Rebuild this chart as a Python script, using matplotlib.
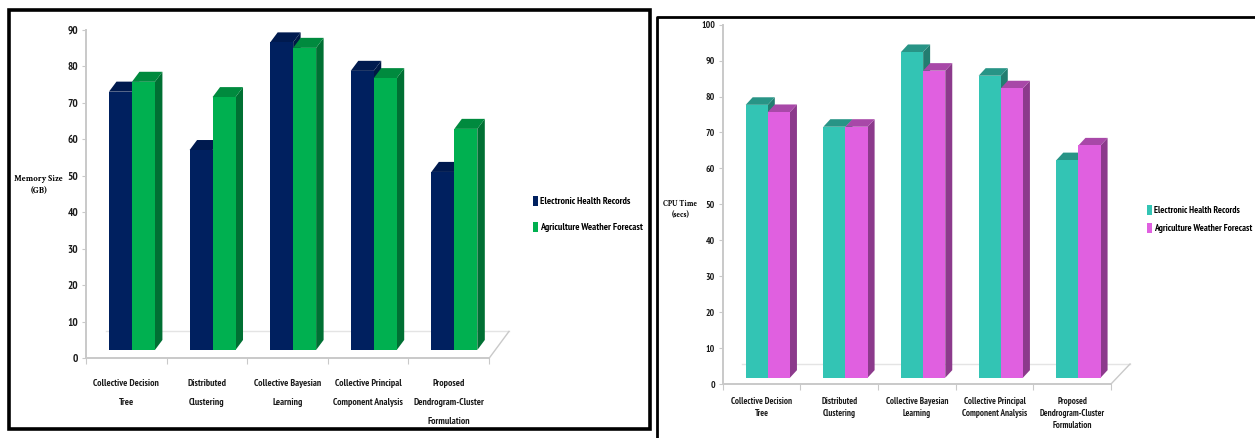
import matplotlib
matplotlib.use("Agg")
import matplotlib.pyplot as plt
from matplotlib.patches import Patch, Polygon, Rectangle

WIDTH = 1255
HEIGHT = 438

methods = [
    "Collective Decision\nTree",
    "Distributed\nClustering",
    "Collective Bayesian\nLearning",
    "Collective Principal\nComponent Analysis",
    "Proposed\nDendrogram-Cluster\nFormulation",
]
series_names = ["Electronic Health Records", "Agriculture Weather Forecast"]

memory_health = [73.1, 57.1, 86.6, 78.8, 51.1]
memory_weather = [75.8, 71.6, 85.1, 76.8, 62.9]
cpu_health = [77.7, 71.6, 92.4, 85.8, 62.3]
cpu_weather = [75.7, 71.6, 87.2, 82.3, 66.4]

NARROW = ["PT Sans Narrow", "Archivo Narrow", "Roboto Condensed",
          "Liberation Sans"]
SERIF = ["Crimson Text", "Liberation Serif"]
AXIS_GREY = "#c9c9c9"


def add_axes_px(fig, left, right, top, bottom):
    # axes box given in pixels from the top left corner
    return fig.add_axes([
        left / WIDTH,
        1 - bottom / HEIGHT,
        (right - left) / WIDTH,
        (bottom - top) / HEIGHT,
    ])


def draw_bar(ax, x0, width, base, value, dx, dy, colors):
    front, top, side = colors
    x1 = x0 + width
    ax.add_patch(Polygon(
        [(x1, base), (x1 + dx, base + dy), (x1 + dx, value + dy), (x1, value)],
        facecolor=side, edgecolor="none", clip_on=False, zorder=3))
    ax.add_patch(Polygon(
        [(x0, value), (x1, value), (x1 + dx, value + dy), (x0 + dx, value + dy)],
        facecolor=top, edgecolor="none", clip_on=False, zorder=3))
    ax.add_patch(Rectangle(
        (x0, base), width, value - base,
        facecolor=front, edgecolor="none", clip_on=False, zorder=3))


def draw_chart(ax, series, colors, ymax, base, offset, width, dx, dy,
               floor_dx, floor_y, label_size, tick_size, label_pad, line_gap):
    n = len(methods)
    ax.set_xlim(0, n)
    ax.set_ylim(0, ymax)

    # floor of the 3D box
    ax.plot([floor_dx, n + floor_dx], [floor_y, floor_y], color="#e4e4e4",
            lw=1, clip_on=False, zorder=1)
    ax.plot([n, n + floor_dx], [0, floor_y], color=AXIS_GREY,
            lw=1, clip_on=False, zorder=1)

    for s, values in enumerate(series):
        for i, value in enumerate(values):
            draw_bar(ax, i + offset + s * width, width, base, value,
                     dx, dy, colors[s])

    for name in ["top", "right"]:
        ax.spines[name].set_visible(False)
    for name in ["left", "bottom"]:
        ax.spines[name].set_color(AXIS_GREY)
        ax.spines[name].set_linewidth(1.4)

    ax.set_xticks(range(n + 1))
    ax.set_xticklabels([])
    ax.set_xticks([i + 0.5 for i in range(n)], minor=True)
    ax.set_xticklabels(methods, minor=True, family=NARROW, fontweight="bold",
                       fontsize=label_size, linespacing=line_gap,
                       color="#1a1a1a")
    ax.tick_params(axis="x", which="minor", length=0, pad=label_pad)
    ax.tick_params(axis="x", which="major", length=4, color=AXIS_GREY)

    ax.set_yticks(range(0, ymax + 1, 10))
    ax.tick_params(axis="y", length=3, color=AXIS_GREY, pad=2.5)
    for tick in ax.get_yticklabels():
        tick.set_family(NARROW)
        tick.set_fontweight("bold")
        tick.set_fontsize(tick_size)
        tick.set_color("#1a1a1a")
    ax.patch.set_alpha(0)


def add_legend(fig, colors, x, y, size, gap):
    handles = [Patch(facecolor=c[0], edgecolor="none") for c in colors]
    fig.legend(handles, series_names, loc="center left",
               bbox_to_anchor=(x / WIDTH, 1 - y / HEIGHT),
               frameon=False, handlelength=0.5, handleheight=1.25,
               handletextpad=0.25, borderpad=0, borderaxespad=0,
               labelspacing=gap,
               prop={"family": NARROW, "weight": "bold", "size": size})


def main():
    fig = plt.figure(figsize=(WIDTH / 100, HEIGHT / 100), dpi=100)

    # panel frames, in pixel units
    frame = fig.add_axes([0, 0, 1, 1])
    frame.set_xlim(0, WIDTH)
    frame.set_ylim(HEIGHT, 0)
    frame.axis("off")
    frame.add_patch(Rectangle((8.5, 10), 641.5, 419, fill=False,
                              edgecolor="black", lw=2.6))
    frame.plot([656.5, 656.5, WIDTH], [HEIGHT, 17, 17], color="black", lw=2)

    memory_colors = [("#00205f", "#001a4f", "#001845"),
                     ("#00b050", "#008a3e", "#007033")]
    cpu_colors = [("#33c4b4", "#289486", "#237d70"),
                  ("#e060e0", "#a848a8", "#8c3a8c")]

    ax1 = add_axes_px(fig, 86, 489, 30, 358.4)
    draw_chart(ax1, [memory_health, memory_weather], memory_colors, 90,
               base=2.3, offset=0.285, width=0.285, dx=0.093, dy=2.75,
               floor_dx=0.248, floor_y=7.4, label_size=7, tick_size=8,
               label_pad=15, line_gap=2.4)
    ax1.set_ylabel("Memory Size\n(GB)", rotation=0, ha="center", va="center",
                   family=SERIF, fontweight="bold", fontsize=6.3,
                   linespacing=1.7)
    ax1.yaxis.set_label_coords(-0.117, 0.528)

    ax2 = add_axes_px(fig, 722.7, 1111, 24.7, 384)
    draw_chart(ax2, [cpu_health, cpu_weather], cpu_colors, 100,
               base=1.75, offset=0.296, width=0.285, dx=0.09, dy=2.1,
               floor_dx=0.245, floor_y=5.57, label_size=6.5, tick_size=6.8,
               label_pad=9.5, line_gap=1.45)
    ax2.set_ylabel("CPU Time\n(secs)", rotation=0, ha="center", va="center",
                   family=SERIF, fontweight="bold", fontsize=5.6,
                   linespacing=1.4)
    ax2.yaxis.set_label_coords(-0.109, 0.486)

    add_legend(fig, memory_colors, 533, 214, 7.2, 1.55)
    add_legend(fig, cpu_colors, 1147, 219, 6.8, 0.87)

    fig.savefig("out.png", dpi=100)


if __name__ == "__main__":
    main()
